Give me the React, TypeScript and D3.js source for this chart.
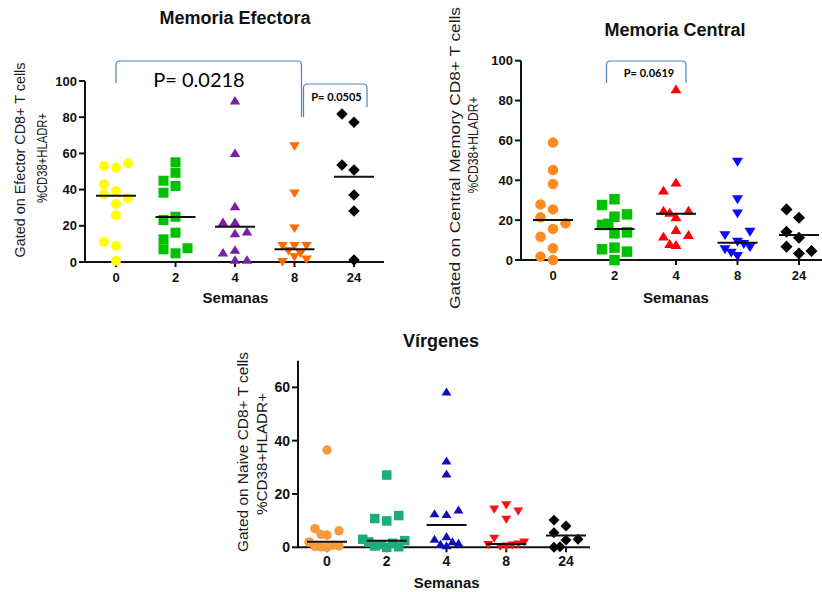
import React from "react";
import * as d3 from "d3";

// ---------- DATA ----------
const weeks = ["0", "2", "4", "8", "24"];
const yTicks100 = [0, 20, 40, 60, 80, 100];
const yTicks70 = [0, 20, 40, 60];

// Memoria Efectora
const efector0 = [52.1, 53, 54.5, 39.2, 43, 37.4, 35.2, 32, 25.8, 8.8, 11.2, 0.7];
const efector2 = [55.1, 49.3, 44.9, 42, 38.3, 25, 23.2, 16.2, 12.5, 4.8, 7.6, 7.0];
const efector4 = [89.1, 60.1, 30.6, 21.9, 21.9, 15.8, 16.7, 1.1, 5.1, 6.6, 1.1];
const efector8 = [64.1, 38, 18.6, 9, 9, 9, 6.2, 4.8, 2.9, 0.2, 1.5];
const efector24 = [77.2, 81.8, 50.8, 53.6, 37, 28.2, 1.1];
const efectorMedians = [36.6, 24.8, 19.5, 7.0, 47.1];

// Memoria Central
const central0 = [58.9, 45.2, 38.1, 25.4, 27.9, 21.4, 15.6, 18.4, 11.7, 5.9, 1.7, 0];
const central2 = [30.5, 27.6, 21.7, 22.9, 17.6, 18.1, 13.4, 13.9, 6.2, 5.4, 4.2, 0];
const central4 = [85.6, 38.8, 34.8, 21.4, 24.7, 24.7, 23.7, 15, 11.7, 12.5, 7.5, 8];
const central8 = [49.3, 30.5, 23.4, 9.2, 12.5, 14.2, 2, 5.4, 6.4, 3.7, 8];
const central24 = [21.2, 25.4, 11.2, 14.2, 3.3, 6.7, 4.5];
const centralMedians = [20.1, 15.6, 23.2, 8.7, 12.5];

// Vírgenes
const naive0 = [36.5, 4.6, 7, 6.2, 4.8, 0, 0.3, 0.5, 0.2, 0.8, 2];
const naive2 = [27.1, 9.9, 10.8, 11.9, 0, 0.5, 0.2, 1, 1.5, 2, 2.5, 3];
const naive4 = [58.3, 32.4, 27.5, 12.3, 12.6, 14, 0.6, 3, 4, 1.5, 1.1, 2.1];
const naive8 = [15.9, 14.3, 13.6, 10.5, 0.5, 3.4, 1.2, 0.3, 0.8, 1, 2];
const naive24 = [8, 10.2, 5.5, 2.7, 3, 0, 0.2];
const naiveMedians = [2.1, 2.5, 8.4, 1.2, 4.4];

// ---------- STYLE ----------
const shapes = ["circle", "square", "triUp", "triDown", "diamond"];
const efectorColors = ["#ffff00", "#00c000", "#7b1fa2", "#ff6a00", "#000000"];
const centralColors = ["#ff8a1e", "#00c000", "#ff0000", "#0a0aff", "#000000"];
const naiveColors = ["#fb9a3a", "#1cae76", "#1010b8", "#ff1010", "#000000"];
const bracketColor = "#4f81bd";
const FONT = "'Liberation Sans', Arial, sans-serif";
const PFONT = "Lato, 'Open Sans', sans-serif";

function markerPath(shape: string, s: number): string {
  const h = s / 2;
  switch (shape) {
    case "circle":
      return `M${h},0A${h},${h} 0 1,1 ${-h},0A${h},${h} 0 1,1 ${h},0Z`;
    case "square":
      return `M${-h},${-h}H${h}V${h}H${-h}Z`;
    case "triUp":
      return `M0,${-h * 0.95}L${h * 1.05},${h * 0.75}L${-h * 1.05},${h * 0.75}Z`;
    case "triDown":
      return `M0,${h * 0.95}L${h * 1.05},${-h * 0.75}L${-h * 1.05},${-h * 0.75}Z`;
    default:
      return `M0,${-h * 1.15}L${h * 1.15},0L0,${h * 1.15}L${-h * 1.15},0Z`;
  }
}

function swarm(values: number[], y: (v: number) => number, thY: number, step: number) {
  const slots = [0, -2, 2, -1, 1, -3, 3, -4, 4, -5, 5];
  const placed: { dx: number; py: number }[] = [];
  return values.map((v) => {
    const py = y(v);
    for (const s of slots) {
      const dx = (s * step) / 2;
      if (!placed.some((p) => p.dx === dx && Math.abs(p.py - py) < thY)) {
        placed.push({ dx, py });
        return { v, dx, py };
      }
    }
    placed.push({ dx: 0, py });
    return { v, dx: 0, py };
  });
}

type PanelProps = {
  groups: number[][];
  medians: number[];
  colors: string[];
  yMax: number;
  ticks: number[];
  axisX: number;
  axisEnd: number;
  yBottom: number;
  yTopPx: number;
  xStart: number;
  xEnd: number;
  markerSize: number;
  step: number;
  tickFont: number;
  tickLabelDy: number;
  title: string;
  titleX: number;
  titleY: number;
  titleSize: number;
  xLabelX: number;
  xLabelY: number;
  yLabel1: string;
  yLabel1X: number;
  yLabel1Y: number;
  yLabel1Len: number;
  yLabel2X: number;
  yLabel2Y: number;
  yLabel2Len: number;
};

function Panel(p: PanelProps) {
  const y = d3.scaleLinear().domain([0, p.yMax]).range([p.yBottom, p.yTopPx]);
  const x = d3.scalePoint<string>().domain(weeks).range([p.xStart, p.xEnd]);
  return (
    <g>
      <text x={p.titleX} y={p.titleY} textAnchor="middle" fontFamily={FONT} fontWeight="bold" fontSize={p.titleSize} fill="#111">
        {p.title}
      </text>
      {/* y-axis */}
      <line x1={p.axisX} x2={p.axisX} y1={y(p.yMax)} y2={p.yBottom} stroke="#111" strokeWidth={2} />
      {p.ticks.map((t) => (
        <g key={"yt" + t}>
          <line x1={p.axisX - 6} x2={p.axisX} y1={y(t)} y2={y(t)} stroke="#111" strokeWidth={2} />
          <text x={p.axisX - 8} y={y(t)} dy="0.36em" textAnchor="end" fontFamily={FONT} fontWeight="bold" fontSize={p.tickFont} fill="#111">
            {t}
          </text>
        </g>
      ))}
      {/* x-axis */}
      <line x1={p.axisX - 1} x2={p.axisEnd} y1={p.yBottom} y2={p.yBottom} stroke="#111" strokeWidth={2} />
      {weeks.map((w) => (
        <g key={"xt" + w}>
          <line x1={x(w)!} x2={x(w)!} y1={p.yBottom} y2={p.yBottom + 5} stroke="#111" strokeWidth={2} />
          <text x={x(w)!} y={p.yBottom + p.tickLabelDy} textAnchor="middle" fontFamily={FONT} fontWeight="bold" fontSize={p.tickFont} fill="#111">
            {w}
          </text>
        </g>
      ))}
      <text x={p.xLabelX} y={p.xLabelY} textAnchor="middle" fontFamily={FONT} fontWeight="bold" fontSize={15} fill="#111">
        Semanas
      </text>
      <text
        transform={`translate(${p.yLabel1X},${p.yLabel1Y}) rotate(-90)`}
        dy="0.36em"
        textAnchor="middle"
        fontFamily={FONT}
        fontSize={14}
        fill="#1a1a1a"
        textLength={p.yLabel1Len}
        lengthAdjust="spacingAndGlyphs"
      >
        {p.yLabel1}
      </text>
      <text
        transform={`translate(${p.yLabel2X},${p.yLabel2Y}) rotate(-90)`}
        dy="0.36em"
        textAnchor="middle"
        fontFamily={FONT}
        fontSize={14}
        fill="#1a1a1a"
        textLength={p.yLabel2Len}
        lengthAdjust="spacingAndGlyphs"
      >
        %CD38+HLADR+
      </text>
      {/* points */}
      {p.groups.map((vals, gi) => {
        const cx = x(weeks[gi])!;
        const pts = swarm(vals, (v) => y(v), p.markerSize * 0.95, p.step);
        return (
          <g key={"g" + gi}>
            {pts.map((pt, i) => (
              <path key={i} d={markerPath(shapes[gi], p.markerSize)} transform={`translate(${cx + pt.dx},${pt.py})`} fill={p.colors[gi]} />
            ))}
            <line x1={cx - 20} x2={cx + 20} y1={y(p.medians[gi])} y2={y(p.medians[gi])} stroke="#111" strokeWidth={2} />
          </g>
        );
      })}
    </g>
  );
}

function bracket(x1: number, x2: number, top: number, yl: number, yr: number, r = 4) {
  return `M${x1},${yl}V${top + r}Q${x1},${top} ${x1 + r},${top}H${x2 - r}Q${x2},${top} ${x2},${top + r}V${yr}`;
}

export default function App() {
  const x1 = d3.scalePoint<string>().domain(weeks).range([116, 354]);
  const x2 = d3.scalePoint<string>().domain(weeks).range([553, 799]);
  return (
    <svg width={822} height={592} style={{ position: "absolute", left: 0, top: 0, background: "#fff" }}>
      <rect width={822} height={592} fill="#fff" />
      <Panel
        groups={[efector0, efector2, efector4, efector8, efector24]}
        medians={efectorMedians}
        colors={efectorColors}
        yMax={100}
        ticks={yTicks100}
        axisX={85}
        axisEnd={384}
        yBottom={262}
        yTopPx={81}
        xStart={116}
        xEnd={354}
        markerSize={10}
        step={12}
        tickFont={13}
        tickLabelDy={20}
        title="Memoria Efectora"
        titleX={235}
        titleY={24}
        titleSize={18}
        xLabelX={235.5}
        xLabelY={303}
        yLabel1="Gated on Efector CD8+ T cells"
        yLabel1X={20}
        yLabel1Y={160}
        yLabel1Len={195}
        yLabel2X={42}
        yLabel2Y={158}
        yLabel2Len={90}
      />
      <Panel
        groups={[central0, central2, central4, central8, central24]}
        medians={centralMedians}
        colors={centralColors}
        yMax={100}
        ticks={yTicks100}
        axisX={521}
        axisEnd={822}
        yBottom={260}
        yTopPx={60.7}
        xStart={553}
        xEnd={799}
        markerSize={10.5}
        step={12.5}
        tickFont={13}
        tickLabelDy={20}
        title="Memoria Central"
        titleX={675}
        titleY={36}
        titleSize={18}
        xLabelX={676}
        xLabelY={303}
        yLabel1="Gated on Central Memory CD8+ T cells"
        yLabel1X={455}
        yLabel1Y={158}
        yLabel1Len={302}
        yLabel2X={473}
        yLabel2Y={145}
        yLabel2Len={97}
      />
      <Panel
        groups={[naive0, naive2, naive4, naive8, naive24]}
        medians={naiveMedians}
        colors={naiveColors}
        yMax={70}
        ticks={yTicks70}
        axisX={298}
        axisEnd={590}
        yBottom={547.3}
        yTopPx={360.7}
        xStart={327}
        xEnd={566}
        markerSize={9.5}
        step={12}
        tickFont={14}
        tickLabelDy={19}
        title="Vírgenes"
        titleX={441}
        titleY={347}
        titleSize={18}
        xLabelX={446.7}
        xLabelY={588}
        yLabel1="Gated on Naive CD8+ T cells"
        yLabel1X={243}
        yLabel1Y={452}
        yLabel1Len={200}
        yLabel2X={262}
        yLabel2Y={454}
        yLabel2Len={122}
      />
      {/* significance brackets */}
      <path d={bracket(x1("0")!, x1("8")! + 7, 61, 83, 117)} fill="none" stroke={bracketColor} strokeWidth={1.2} />
      <text x={199} y={87} textAnchor="middle" fontFamily={PFONT} fontSize={20} fill="#000">
        P= 0.0218
      </text>
      <path d={bracket(x1("8")! + 9, x1("24")! + 13, 84, 117, 107)} fill="none" stroke={bracketColor} strokeWidth={1.2} />
      <text x={336.5} y={100.5} textAnchor="middle" fontFamily={PFONT} fontWeight="bold" fontSize={11} fill="#000">
        P= 0.0505
      </text>
      <path d={bracket(x2("2")! - 8, x2("4")! + 10, 61, 83, 83)} fill="none" stroke={bracketColor} strokeWidth={1.2} />
      <text x={649} y={77} textAnchor="middle" fontFamily={PFONT} fontWeight="bold" fontSize={11} fill="#000">
        P= 0.0619
      </text>
    </svg>
  );
}
